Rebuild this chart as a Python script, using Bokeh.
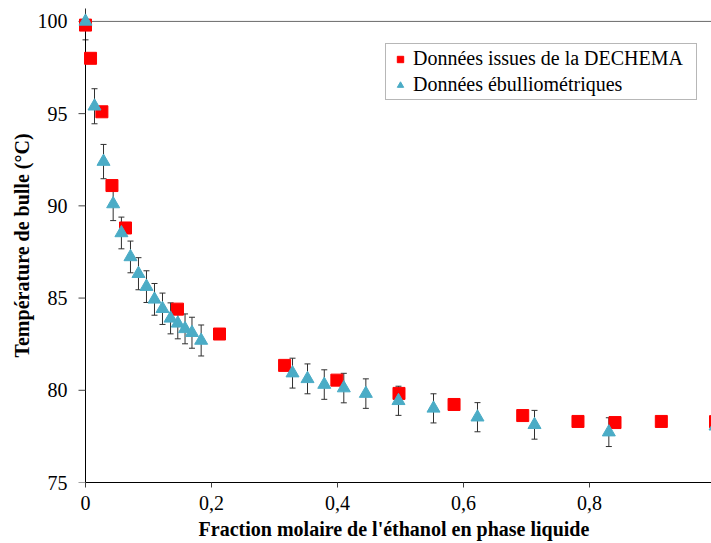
import math
from bokeh.plotting import figure
from bokeh.models import (ColumnDataSource, Whisker, TeeHead, Legend, LegendItem,
                          FixedTicker, Label, Range1d)
from bokeh.embed import file_html
from bokeh.resources import INLINE

# ---- data ----
dechema_x = [0.0, 0.008, 0.026, 0.042, 0.0635, 0.146, 0.2127, 0.316, 0.399, 0.4976,
             0.585, 0.694, 0.7817, 0.8405, 0.914, 1.0]
dechema_T = [99.8, 98.0, 95.1, 91.1, 88.8, 84.4, 83.05, 81.35, 80.55, 79.83,
             79.23, 78.63, 78.31, 78.25, 78.31, 78.3]

ebu_x = [0.0, 0.0143, 0.0286, 0.0439, 0.057, 0.0714, 0.0841, 0.0968, 0.1095, 0.1222,
         0.135, 0.1465, 0.158, 0.169, 0.1836, 0.3286, 0.3524, 0.379, 0.41, 0.445,
         0.4968, 0.5524, 0.6222, 0.7127, 0.8307, 1.0]
ebu_T = [100.0, 95.4, 92.4, 90.1, 88.53, 87.23, 86.32, 85.62, 84.93, 84.42,
         83.9, 83.63, 83.33, 83.12, 82.7, 80.93, 80.62, 80.31, 80.12, 79.82,
         79.43, 79.02, 78.54, 78.13, 77.73, 78.05]
ebu_err = [1.0, 0.95, 0.93, 0.9, 0.86, 0.86, 0.87, 0.86, 0.86, 0.85,
           0.84, 0.84, 0.81, 0.84, 0.84, 0.81, 0.81, 0.8, 0.8, 0.8,
           0.79, 0.79, 0.79, 0.78, 0.78, 0.77]

x_ticks = [0, 0.2, 0.4, 0.6, 0.8, 1]
x_tick_labels = ["0", "0,2", "0,4", "0,6", "0,8", "1"]
y_ticks = [75, 80, 85, 90, 95, 100]
y_tick_labels = ["75", "80", "85", "90", "95", "100"]

series_names = ["Données issues de la DECHEMA", "Données ébulliométriques"]
x_title = "Fraction molaire de l'éthanol en phase liquide"
y_title = "Température de bulle (°C)"

FONT = "Liberation Serif"
RED = "#FF0000"
BLUE = "#4BACC6"
TICK = "#404040"

# the frame starts a little left of x=0 so the markers on the value axis are not cut
p = figure(width=711, height=543, output_backend="svg", toolbar_location=None,
           x_range=Range1d(-9 / 630, -9 / 630 + 635 / 630), y_range=Range1d(75, 100.7),
           min_border_left=76, min_border_right=0, min_border_top=8,
           min_border_bottom=61)
p.outline_line_color = None
p.grid.visible = False
p.background_fill_color = "white"
p.border_fill_color = "white"

# x axis
xa = p.xaxis[0]
xa.ticker = FixedTicker(ticks=x_ticks)
xa.major_label_overrides = {t: l for t, l in zip(x_ticks, x_tick_labels)}
xa.bounds = (x_ticks[0], x_ticks[-1])
xa.axis_line_color = "black"
xa.major_tick_line_color = TICK
xa.major_tick_out = 5
xa.major_tick_in = 0
xa.minor_tick_line_color = None
xa.major_label_standoff = 8
xa.major_label_text_font = FONT
xa.major_label_text_font_size = "20px"
xa.major_label_text_color = "black"
xa.axis_label = x_title
xa.axis_label_text_font = FONT
xa.axis_label_text_font_size = "20px"
xa.axis_label_text_font_style = "bold"
xa.axis_label_text_color = "black"
xa.axis_label_standoff = 5

# y axis: labels and title from the axis; its line and ticks are drawn at x=0 below
ya = p.yaxis[0]
ya.ticker = FixedTicker(ticks=y_ticks)
ya.major_label_overrides = {t: l for t, l in zip(y_ticks, y_tick_labels)}
ya.axis_line_color = None
ya.major_tick_line_color = None
ya.major_tick_out = 0
ya.major_tick_in = 0
ya.minor_tick_line_color = None
ya.major_label_standoff = 9
ya.major_label_text_font = FONT
ya.major_label_text_font_size = "20px"
ya.major_label_text_color = "black"
ya.axis_label = y_title
ya.axis_label_text_font = FONT
ya.axis_label_text_font_size = "20px"
ya.axis_label_text_font_style = "bold"
ya.axis_label_text_color = "black"
ya.axis_label_standoff = 2

# value axis line and its outward ticks at x = 0
p.segment(x0=[x_ticks[0]], y0=[y_ticks[0]], x1=[x_ticks[0]], y1=[y_ticks[-1]],
          line_color="black", line_width=1)
p.ray(x=[x_ticks[0]] * len(y_ticks), y=y_ticks, length=7, length_units="screen",
      angle=math.pi, line_color=TICK, line_width=1)

# top reference line at the top of the value axis
p.segment(x0=[x_ticks[0]], y0=[y_ticks[-1]], x1=[x_ticks[-1]], y1=[y_ticks[-1]],
          line_color="#6a6a6a", line_width=1)

# error bars
lo = [t - e for t, e in zip(ebu_T, ebu_err)]
hi = [t + e for t, e in zip(ebu_T, ebu_err)]
src_e = ColumnDataSource(dict(x=ebu_x, T=ebu_T, lo=lo, hi=hi))
w = Whisker(base="x", lower="lo", upper="hi", source=src_e, level="underlay",
            line_color="#303030", line_width=1,
            upper_head=TeeHead(size=6, line_color="#303030", line_width=1),
            lower_head=TeeHead(size=6, line_color="#303030", line_width=1))
p.add_layout(w)

src_d = ColumnDataSource(dict(x=dechema_x, T=dechema_T))
r1 = p.scatter("x", "T", source=src_d, marker="square", size=12,
               fill_color=RED, line_color=RED)
r2 = p.scatter("x", "T", source=src_e, marker="triangle", size=13,
               fill_color=BLUE, line_color=BLUE)

legend = Legend(items=[LegendItem(label=series_names[0], renderers=[r1]),
                       LegendItem(label=series_names[1], renderers=[r2])],
                location=(300 + 9, 382))
legend.label_text_font = FONT
legend.label_text_font_size = "20px"
legend.label_text_color = "black"
legend.border_line_color = "#6f6f6f"
legend.border_line_width = 1
legend.background_fill_color = "white"
legend.background_fill_alpha = 1
legend.padding = 3
legend.spacing = 3
legend.label_height = 22
legend.label_width = 280
legend.glyph_height = 16
legend.glyph_width = 22
legend.label_standoff = 2
legend.margin = 0
p.add_layout(legend)

# the last x tick label, partly cut by the page edge as in the reference
p.add_layout(Label(x=x_ticks[-1], y=y_ticks[0], text=x_tick_labels[-1],
                   text_align="center", text_baseline="top", y_offset=-13,
                   text_font=FONT, text_font_size="20px", text_color="black"))

open("out.html", "w").write(file_html(p, INLINE))
